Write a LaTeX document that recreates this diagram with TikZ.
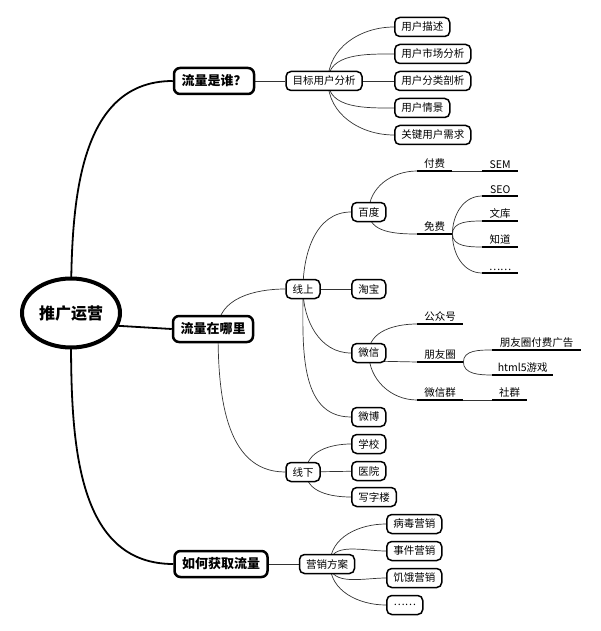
\documentclass[tikz,border=0pt]{standalone}
\usepackage{fontspec}
\setmainfont{Noto Sans CJK SC}
\usetikzlibrary{backgrounds,shapes.geometric,calc}
\begin{document}
\begin{tikzpicture}[x=1pt,y=-1pt,
  every node/.style={font=\fontsize{10.5}{12}\selectfont, text=black},
  box/.style={draw=black, line width=1.5pt, rounded corners=5pt, fill=white, minimum height=19pt, inner xsep=6.5pt, inner ysep=0pt},
  mainbox/.style={draw=black, line width=2.5pt, rounded corners=6pt, fill=white, minimum height=26pt, inner xsep=7.5pt, inner ysep=0pt, font=\fontsize{13}{15}\selectfont\bfseries},
  rootnode/.style={ellipse, draw=black, line width=4pt, fill=white, minimum width=98pt, minimum height=69pt, inner sep=0pt, font=\fontsize{16}{18}\selectfont\bfseries},
  conn/.style={draw=black!80, line width=0.7pt},
  rootconn/.style={draw=black, line width=1.8pt},
  ulabel/.style={inner xsep=0pt, inner ysep=2.5pt, minimum width=#1, anchor=south west},
  uline/.style={draw=black, line width=1.3pt},
]
\useasboundingbox (0,0) rectangle (600,631);

% root and main branches
\node[rootnode] (root) at (71,313) {推广运营};
\node[mainbox] (m1) at (214,81) {流量是谁？};
\node[mainbox] (m2) at (213,329) {流量在哪里};
\node[mainbox] (m3) at (221,564) {如何获取流量};

% branch 1
\node[box] (h1) at (324,81) {目标用户分析};
\node[box, anchor=west] (u1) at (394,27) {用户描述};
\node[box, anchor=west] (u2) at (394,54) {用户市场分析};
\node[box, anchor=west] (u3) at (394,81) {用户分类剖析};
\node[box, anchor=west] (u4) at (394,108) {用户情景};
\node[box, anchor=west] (u5) at (394,135) {关键用户需求};

% branch 2
\node[box] (xs) at (303,289) {线上};
\node[box] (xx) at (303,472) {线下};
\node[box, anchor=west] (bd) at (351,212) {百度};
\node[box, anchor=west] (tb) at (351,289) {淘宝};
\node[box, anchor=west] (wx) at (351,353) {微信};
\node[box, anchor=west] (wb) at (351,417) {微博};
\node[box, anchor=west] (xue) at (351,444) {学校};
\node[box, anchor=west] (yy) at (351,471) {医院};
\node[box, anchor=west] (xzl) at (351,497) {写字楼};

\node[ulabel=35pt] (ff) at (417,171) {付费};
\node[ulabel=36pt] (sem) at (482,171) {SEM};
\node[ulabel=35pt] (mf) at (417,234) {免费};
\node[ulabel=36pt] (seo) at (482,196) {SEO};
\node[ulabel=36pt] (wk) at (482,221) {文库};
\node[ulabel=36pt] (zd) at (482,247) {知道};
\node[ulabel=36pt] (dots1) at (482,273) {……};

\node[ulabel=46pt] (gzh) at (417,324) {公众号};
\node[ulabel=46pt] (pyq) at (417,362) {朋友圈};
\node[ulabel=46pt] (wxq) at (417,400) {微信群};
\node[ulabel=89pt] (pyqgg) at (492,350) {朋友圈付费广告};
\node[ulabel=61pt] (h5) at (492,375) {html5游戏};
\node[ulabel=35pt] (sq) at (492,400) {社群};

% branch 3
\node[box] (yx) at (327,564) {营销方案};
\node[box, anchor=west] (bdyx) at (386,524) {病毒营销};
\node[box, anchor=west] (sjyx) at (386,551) {事件营销};
\node[box, anchor=west] (jeyx) at (386,578) {饥饿营销};
\node[box, anchor=west, minimum width=36pt] (dots2) at (386,605) {……};

% underlines
\foreach \n in {ff,sem,mf,seo,wk,zd,dots1,gzh,pyq,wxq,pyqgg,h5,sq}
  \draw[uline] (\n.south west) -- (\n.south east);

\begin{pgfonlayer}{background}
\draw[rootconn] (root.center) to[out=90,in=180] (m1.west);
\draw[rootconn] ($(root.center)+(0,10)$) -- (m2.west);
\draw[rootconn] (root.center) to[out=-90,in=180] (m3.west);

\draw[conn] (m1) -- (h1);
\draw[conn] ($(h1.center)+(4,0)$) to[out=90,in=180] (u1.west);
\draw[conn] ($(h1.center)+(4,0)$) to[out=90,in=180] (u2.west);
\draw[conn] (h1) -- (u3);
\draw[conn] ($(h1.center)+(4,0)$) to[out=-90,in=180] (u4.west);
\draw[conn] ($(h1.center)+(4,0)$) to[out=-90,in=180] (u5.west);

\draw[conn] ($(m2.center)+(5,0)$) to[out=90,in=180] (xs.west);
\draw[conn] ($(m2.center)+(5,0)$) to[out=-90,in=180] (xx.west);

\draw[conn] (xs.center) to[out=90,in=180] (bd.west);
\draw[conn] (xs) -- (tb);
\draw[conn] (xs.center) to[out=-90,in=180] (wx.west);
\draw[conn] (xs.center) to[out=-90,in=180] (wb.west);

\draw[conn] ($(xx.center)+(3,0)$) to[out=90,in=180] (xue.west);
\draw[conn] (xx) -- (yy);
\draw[conn] ($(xx.center)+(3,0)$) to[out=-90,in=180] (xzl.west);

\draw[conn] (bd.center) to[out=90,in=180] (ff.south west);
\draw[conn] (bd.center) to[out=-90,in=180] (mf.south west);
\draw[conn] (ff.south east) -- (sem.south west);
\draw[conn] (mf.south east) to[out=90,in=180] (seo.south west);
\draw[conn] (mf.south east) to[out=90,in=180] (wk.south west);
\draw[conn] (mf.south east) to[out=-90,in=180] (zd.south west);
\draw[conn] (mf.south east) to[out=-90,in=180] (dots1.south west);

\draw[conn] (wx.center) to[out=90,in=180] (gzh.south west);
\draw[conn] ($(wx.center)+(0,8)$) -- (pyq.south west);
\draw[conn] (wx.center) to[out=-90,in=180] (wxq.south west);
\draw[conn] (pyq.south east) to[out=90,in=180] (pyqgg.south west);
\draw[conn] (pyq.south east) to[out=-90,in=180] (h5.south west);
\draw[conn] (wxq.south east) -- (sq.south west);

\draw[conn] (m3) -- (yx);
\draw[conn] ($(yx.center)+(3,0)$) to[out=90,in=180] (bdyx.west);
\draw[conn] ($(yx.center)+(3,0)$) to[out=90,in=180] (sjyx.west);
\draw[conn] ($(yx.center)+(3,0)$) to[out=-90,in=180] (jeyx.west);
\draw[conn] ($(yx.center)+(3,0)$) to[out=-90,in=180] (dots2.west);
\end{pgfonlayer}
\end{tikzpicture}
\end{document}
